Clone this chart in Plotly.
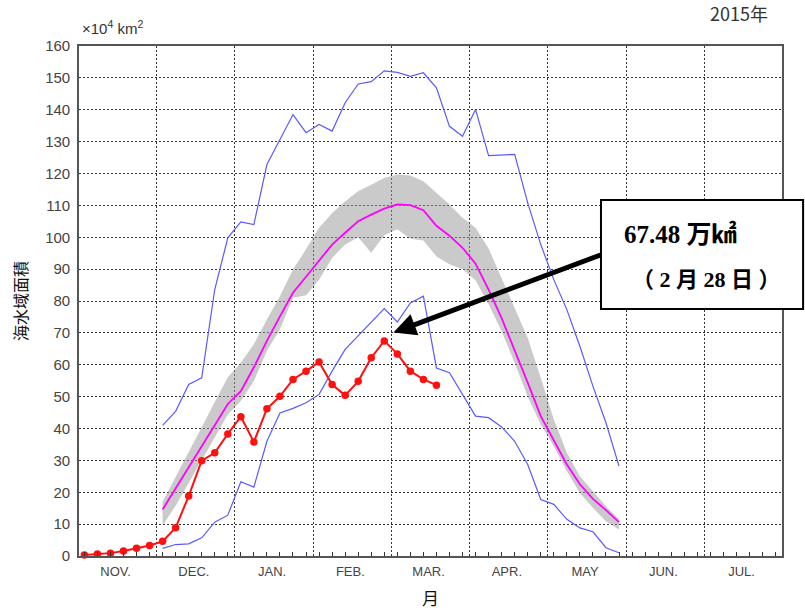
import plotly.graph_objects as go

# ---------------- data (sea-ice extent, x10^4 km2, 5-day steps; 6 steps per month) -------------
MONTHS = ["NOV.", "DEC.", "JAN.", "FEB.", "MAR.", "APR.", "MAY", "JUN.", "JUL."]
STEPS_PER_MONTH = 6

# 2015 season (starts at first pentad of November)
SEASON_2015 = [0.3, 0.6, 0.9, 1.6, 2.4, 3.3, 4.6, 8.9, 18.8, 29.9, 32.4, 38.3, 43.7, 35.8,
               46.2, 50.1, 55.4, 58.0, 60.9, 53.8, 50.4, 54.8, 62.2, 67.48, 63.4, 58.0, 55.4, 53.6]

# climatology series start at pentad index 6 (first pentad of December)
CLIM_START = 6
NORMAL = [14.6, 21.1, 27.7, 34.4, 41.0, 47.7, 51.7, 59.2, 67.5, 75.2, 82.6, 87.6, 92.6, 97.7,
          101.4, 105.0, 107.1, 109.0, 110.3, 110.1, 108.5, 103.6, 100.5, 96.7, 91.7, 83.6,
          74.6, 64.8, 54.4, 43.9, 36.3, 28.7, 22.5, 17.9, 14.4, 10.6]
NORMAL_HIGH = [17.0, 24.7, 32.6, 40.4, 48.3, 56.1, 60.6, 66.4, 74.2, 81.5, 89.9, 96.2, 103.0,
               107.5, 111.3, 114.4, 116.5, 118.6, 119.7, 119.4, 117.6, 113.9, 110.3, 106.1,
               103.0, 96.5, 87.0, 77.6, 68.4, 55.9, 42.8, 32.4, 25.0, 20.3, 15.6, 11.5]
NORMAL_LOW = [9.5, 15.8, 22.9, 30.1, 37.2, 44.4, 48.6, 54.9, 64.4, 71.1, 81.0, 81.8, 86.7,
              93.5, 97.7, 100.0, 95.1, 100.6, 102.5, 99.5, 99.0, 94.0, 91.5, 90.0, 86.5, 79.0,
              70.5, 60.6, 50.0, 41.3, 34.4, 26.6, 19.8, 15.1, 10.9, 8.3]
HIST_MAX = [41.0, 45.4, 53.8, 55.9, 83.6, 99.8, 104.8, 104.0, 122.8, 130.7, 138.5, 132.8,
            135.4, 133.3, 142.2, 148.1, 148.8, 152.2, 151.7, 150.5, 151.6, 146.9, 134.8, 131.7,
            140.1, 125.6, 125.9, 126.0, 110.8, 97.7, 86.7, 77.3, 65.8, 53.3, 41.8, 28.2]
HIST_MIN = [2.4, 3.6, 3.8, 5.7, 10.6, 12.8, 23.3, 21.6, 36.0, 44.9, 46.3, 48.1, 50.7, 58.0,
            64.8, 69.0, 73.2, 77.6, 73.4, 79.4, 81.5, 59.0, 57.5, 50.7, 43.9, 43.4, 40.5, 36.0,
            28.7, 17.7, 16.2, 11.5, 8.8, 7.6, 2.6, 1.0]

PEAK_INDEX = 23
PEAK_VALUE = 67.48
PEAK_DATE = "（ 2 月 28 日 ）"
YEAR_LABEL = "2015年"

# ---------------------------------------------------------------------------------------------
x_season = list(range(len(SEASON_2015)))
x_clim = list(range(CLIM_START, CLIM_START + len(NORMAL)))
n_steps = STEPS_PER_MONTH * len(MONTHS)

GRID = dict(showgrid=True, gridcolor="#333333", griddash="2px,2px", gridwidth=1.4)

fig = go.Figure()

# normal range band
fig.add_trace(go.Scatter(
    x=x_clim + x_clim[::-1], y=NORMAL_HIGH + NORMAL_LOW[::-1],
    fill="toself", fillcolor="rgba(150,150,150,0.5)", line=dict(width=0),
    mode="lines", hoverinfo="skip", showlegend=False))
# historical max / min
fig.add_trace(go.Scatter(x=x_clim, y=HIST_MAX, mode="lines",
                         line=dict(color="#5a5aff", width=1.2), showlegend=False))
fig.add_trace(go.Scatter(x=x_clim, y=HIST_MIN, mode="lines",
                         line=dict(color="#5a5aff", width=1.2), showlegend=False))
# normal
fig.add_trace(go.Scatter(x=x_clim, y=NORMAL, mode="lines",
                         line=dict(color="#ff00ff", width=1.8), showlegend=False))
# 2015
fig.add_trace(go.Scatter(x=x_season, y=SEASON_2015, mode="lines+markers",
                         line=dict(color="#ff1010", width=2),
                         marker=dict(color="#ff1010", size=7.5),
                         cliponaxis=False, showlegend=False))
# helper (invisible) trace for the pentad tick axis
fig.add_trace(go.Scatter(x=[0], y=[0], xaxis="x2", mode="markers",
                         marker=dict(opacity=0), hoverinfo="skip", showlegend=False))

x_range = [-0.41, n_steps - 0.5]
month_bounds = [STEPS_PER_MONTH * k - 0.45 for k in range(1, len(MONTHS))]
month_centers = [STEPS_PER_MONTH * k + 2.4 for k in range(len(MONTHS))]

fig.update_layout(
    width=805, height=610,
    margin=dict(l=79, r=23, t=46, b=54, autoexpand=False),
    plot_bgcolor="white", paper_bgcolor="white",
    font=dict(family="Liberation Sans, Arial, sans-serif", color="#333333"),
    showlegend=False,
    xaxis=dict(
        range=x_range, tickmode="array", tickvals=month_centers, ticktext=MONTHS,
        ticks="", showgrid=False, zeroline=False, automargin=False,
        showline=True, linecolor="#555555", linewidth=1.6, mirror=True,
        tickfont=dict(size=13, color="#444444"), ticklabelstandoff=3,
        minor=dict(tickmode="array", tickvals=month_bounds, ticks="", **GRID),
        title=dict(text="月", font=dict(family="Noto Sans CJK JP", size=17, color="#111111"),
                   standoff=16),
    ),
    xaxis2=dict(
        range=x_range, overlaying="x", anchor="y", side="bottom", automargin=False,
        tickmode="array", tickvals=list(range(n_steps)), ticks="inside", ticklen=4,
        tickcolor="#333333", tickwidth=1, showticklabels=False, showgrid=False,
        zeroline=False, showline=False,
    ),
    yaxis=dict(
        range=[0, 160], tickmode="array", tickvals=list(range(0, 161, 10)),
        ticks="", zeroline=False, automargin=False,
        showline=True, linecolor="#555555", linewidth=1.6, mirror=True,
        tickfont=dict(size=15, color="#444444"), ticklabelstandoff=4,
        title=dict(text="海水域面積", font=dict(family="Noto Sans CJK JP", size=16, color="#111111"),
                   standoff=14),
        **GRID,
    ),
)

# annotation box
fig.add_shape(type="rect", xref="paper", yref="paper",
              x0=0.7425, x1=1.030, y0=0.4843, y1=0.698,
              line=dict(color="black", width=2), fillcolor="white", layer="above")

# arrow pointing at the peak
fig.add_annotation(x=PEAK_INDEX + 0.7, y=PEAK_VALUE + 2.6, xref="x", yref="y",
                   ax=39.7, ay=94.6, axref="x", ayref="y",
                   text="", showarrow=True, arrowhead=2, arrowsize=0.9,
                   arrowwidth=5, arrowcolor="black")

fig.add_annotation(x=0.7724, y=0.631, xref="paper", yref="paper", xanchor="left",
                   yanchor="middle", showarrow=False,
                   text=f"{PEAK_VALUE:.2f} 万㎢",
                   font=dict(family="Liberation Serif, Noto Sans CJK JP", size=25,
                             color="black", weight="bold"))
fig.add_annotation(x=0.7838, y=0.543, xref="paper", yref="paper", xanchor="left",
                   yanchor="middle", showarrow=False, text=PEAK_DATE,
                   font=dict(family="Liberation Serif, Noto Sans CJK JP", size=22,
                             color="black", weight="bold"))

# unit and year labels
fig.add_annotation(x=0.0014, y=1.036, xref="paper", yref="paper", xanchor="left",
                   yanchor="middle", showarrow=False,
                   text="×10<sup>4</sup> km<sup>2</sup>",
                   font=dict(size=15, color="#333333"))
fig.add_annotation(x=0.983, y=1.065, xref="paper", yref="paper", xanchor="right",
                   yanchor="middle", showarrow=False, text=YEAR_LABEL,
                   font=dict(family="Noto Sans CJK JP", size=18, color="#333333"))

fig.write_html("out.html", config={"displayModeBar": False},
               post_script="document.body.style.margin='0';")
